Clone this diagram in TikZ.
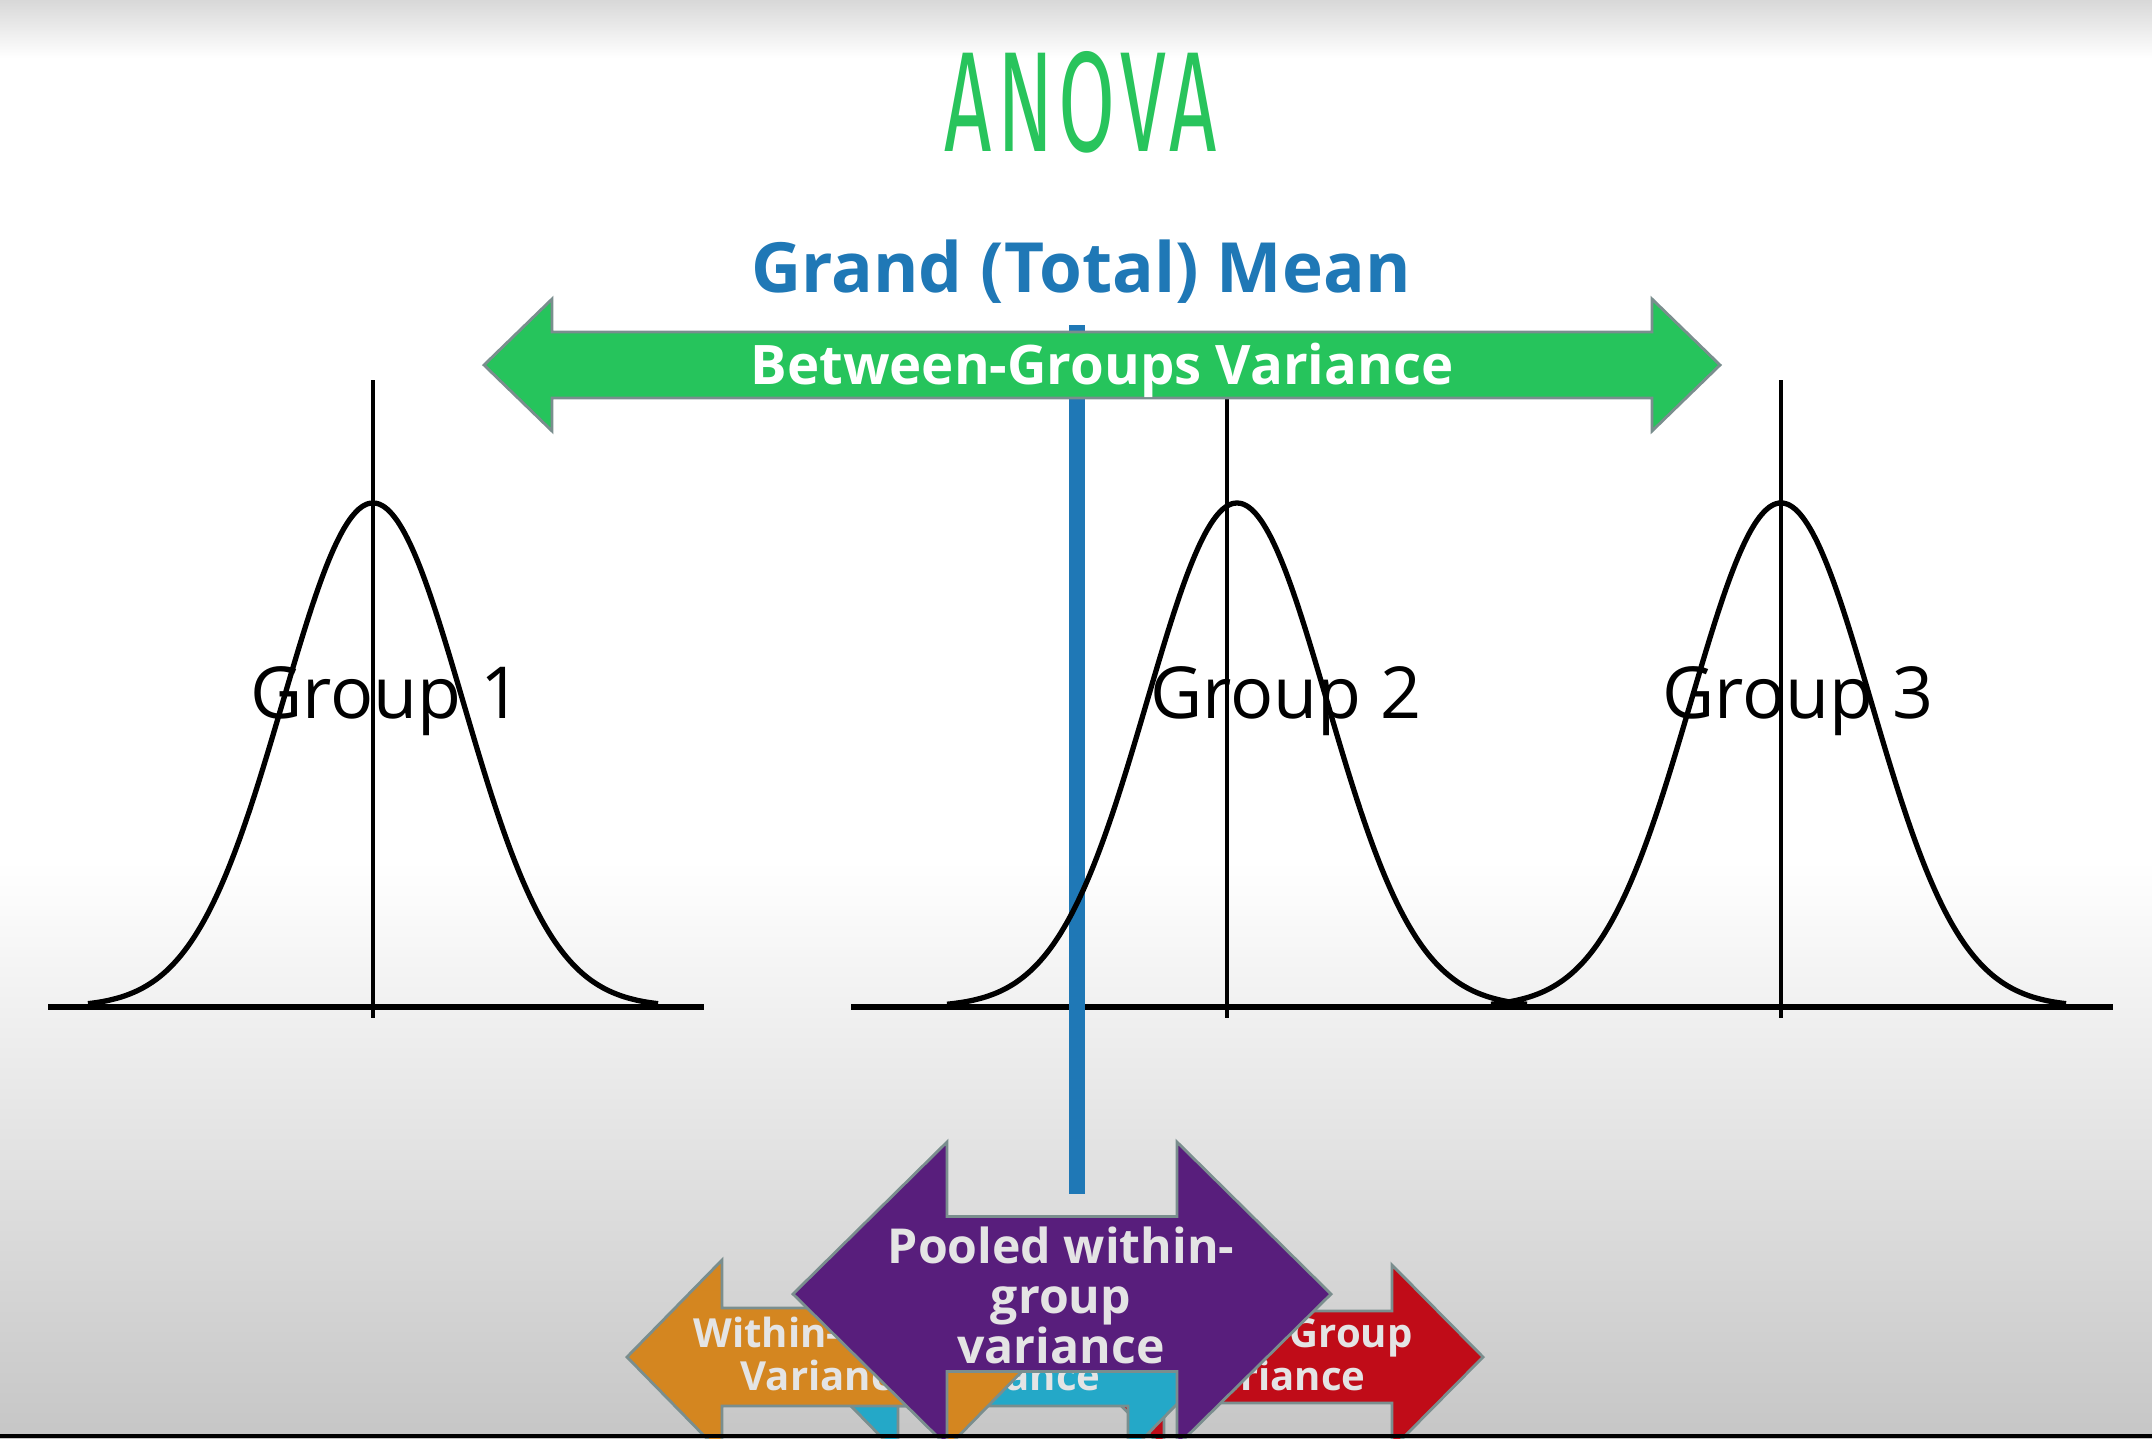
\documentclass[tikz,border=0pt]{standalone}
\usepackage{fontspec}
\setmainfont{Open Sans}
\newfontfamily\anovafont[LetterSpace=6]{Fira Sans}
\definecolor{anovagreen}{RGB}{40,196,92}
\definecolor{arrowgreen}{RGB}{38,196,92}
\definecolor{meanblue}{RGB}{31,120,182}
\definecolor{poolpurple}{RGB}{88,30,124}
\definecolor{grporange}{RGB}{212,134,32}
\definecolor{grpred}{RGB}{192,12,24}
\definecolor{grpcyan}{RGB}{36,168,200}
\definecolor{shapeedge}{RGB}{122,142,142}
\definecolor{lighttext}{RGB}{228,228,228}
\definecolor{bgtop}{RGB}{216,216,216}
\definecolor{bgbottom}{RGB}{198,198,198}
% double-headed block arrow: cx cy halfwidth headlength headhalf bodyhalf style
\newcommand\drawdblarrow[7]{%
  \filldraw[#7] ({#1-#3},{#2}) -- ({#1-#3+#4},{#2-#5}) -- ({#1-#3+#4},{#2-#6})
    -- ({#1+#3-#4},{#2-#6}) -- ({#1+#3-#4},{#2-#5}) -- ({#1+#3},{#2})
    -- ({#1+#3-#4},{#2+#5}) -- ({#1+#3-#4},{#2+#6}) -- ({#1-#3+#4},{#2+#6})
    -- ({#1-#3+#4},{#2+#5}) -- cycle;}
\begin{document}
\begin{tikzpicture}[x=0.01cm,y=-0.01cm,
  grouplabel/.style={inner sep=0,anchor=base,text=black,font=\fontsize{20.4}{24}\selectfont},
  axisline/.style={line width=1.9pt,black,line cap=butt},
  meanline/.style={line width=1.05pt,black},
  bellcurve/.style={line width=1.5pt,black},
  blockedge/.style={draw=shapeedge,line width=0.8pt,line join=miter},
  smalltext/.style={inner sep=0,anchor=base,text=lighttext,font=\bfseries\fontsize{11.4}{13}\selectfont},
  pooltext/.style={inner sep=0,anchor=base,text=lighttext,font=\bfseries\fontsize{13.7}{16}\selectfont}]
\useasboundingbox (0,0) rectangle (2152,1438);
\clip (0,0) rectangle (2152,1438);
% background
\fill[white] (0,0) rectangle (2152,1438);
\shade[top color=bgtop,bottom color=white] (0,0) rectangle (2152,58);
\shade[top color=white,bottom color=bgbottom] (0,860) rectangle (2152,1438);
% axes
\draw[axisline] (48,1007) -- (704,1007);
\draw[axisline] (851,1007) -- (2113,1007);
% grand mean line
\draw[meanblue,line width=4.3pt] (1077,325) -- (1077,1194);
% bell curves
\draw[bellcurve] plot[domain=-285:285,samples=121,smooth] ({373+\x},{1007-504*exp(-0.5*(\x/90)^2)});
\draw[bellcurve] plot[domain=-290:290,samples=121,smooth] ({1237+\x},{1007-504*exp(-0.5*(\x/90)^2)});
\draw[bellcurve] plot[domain=-290:285,samples=121,smooth] ({1781+\x},{1007-504*exp(-0.5*(\x/90)^2)});
% group mean lines
\draw[meanline] (373,380) -- (373,1018);
\draw[meanline] (1227,380) -- (1227,1018);
\draw[meanline] (1781,380) -- (1781,1018);
% group labels
\node[grouplabel] (g1) at (386,718) {Group 1};
\node[grouplabel] (g2) at (1286,718) {Group 2};
\node[grouplabel] (g3) at (1798,718) {Group 3};
% between-groups arrow
\drawdblarrow{1102}{365}{618}{68}{66}{33}{fill=arrowgreen,blockedge}
\node[inner sep=0,anchor=base,text=white,font=\bfseries\fontsize{15.5}{18}\selectfont] (between) at (1102,384) {Between-Groups Variance};
% grand mean title
\node[inner sep=0,anchor=base,text=meanblue,font=\bfseries\fontsize{19.7}{23}\selectfont] (grand) at (1081,292) {Grand (Total) Mean};
% title
\node[inner sep=0,anchor=base,text=anovagreen] (anova) at (1081,151) {\resizebox{2.72cm}{1.0cm}{\anovafont ANOVA}};
% bottom arrows
\drawdblarrow{1278}{1357}{205}{91}{92}{46}{fill=grpred,blockedge}
\node[smalltext] (r1) at (1278,1347) {Within-Group};
\node[smalltext] (r2) at (1278,1390) {Variance};
\drawdblarrow{1013}{1357}{210}{95}{97}{49}{fill=grpcyan,blockedge}
\node[smalltext] (c1) at (1013,1347) {Within-Group};
\node[smalltext] (c2) at (1013,1390) {Variance};
\drawdblarrow{831.5}{1357}{204.5}{95}{97}{49}{fill=grporange,blockedge}
\node[smalltext] (o1) at (828,1347) {Within-Group};
\node[smalltext] (o2) at (828,1390) {Variance};
\drawdblarrow{1062}{1294}{269}{154}{152}{77.5}{fill=poolpurple,blockedge}
\node[pooltext] (p1) at (1061,1263) {Pooled within-};
\node[pooltext] (p2) at (1061,1313) {group};
\node[pooltext] (p3) at (1061,1363) {variance};
% bottom black strip
\fill[black] (0,1434) rectangle (2152,1438);
\end{tikzpicture}
\end{document}
